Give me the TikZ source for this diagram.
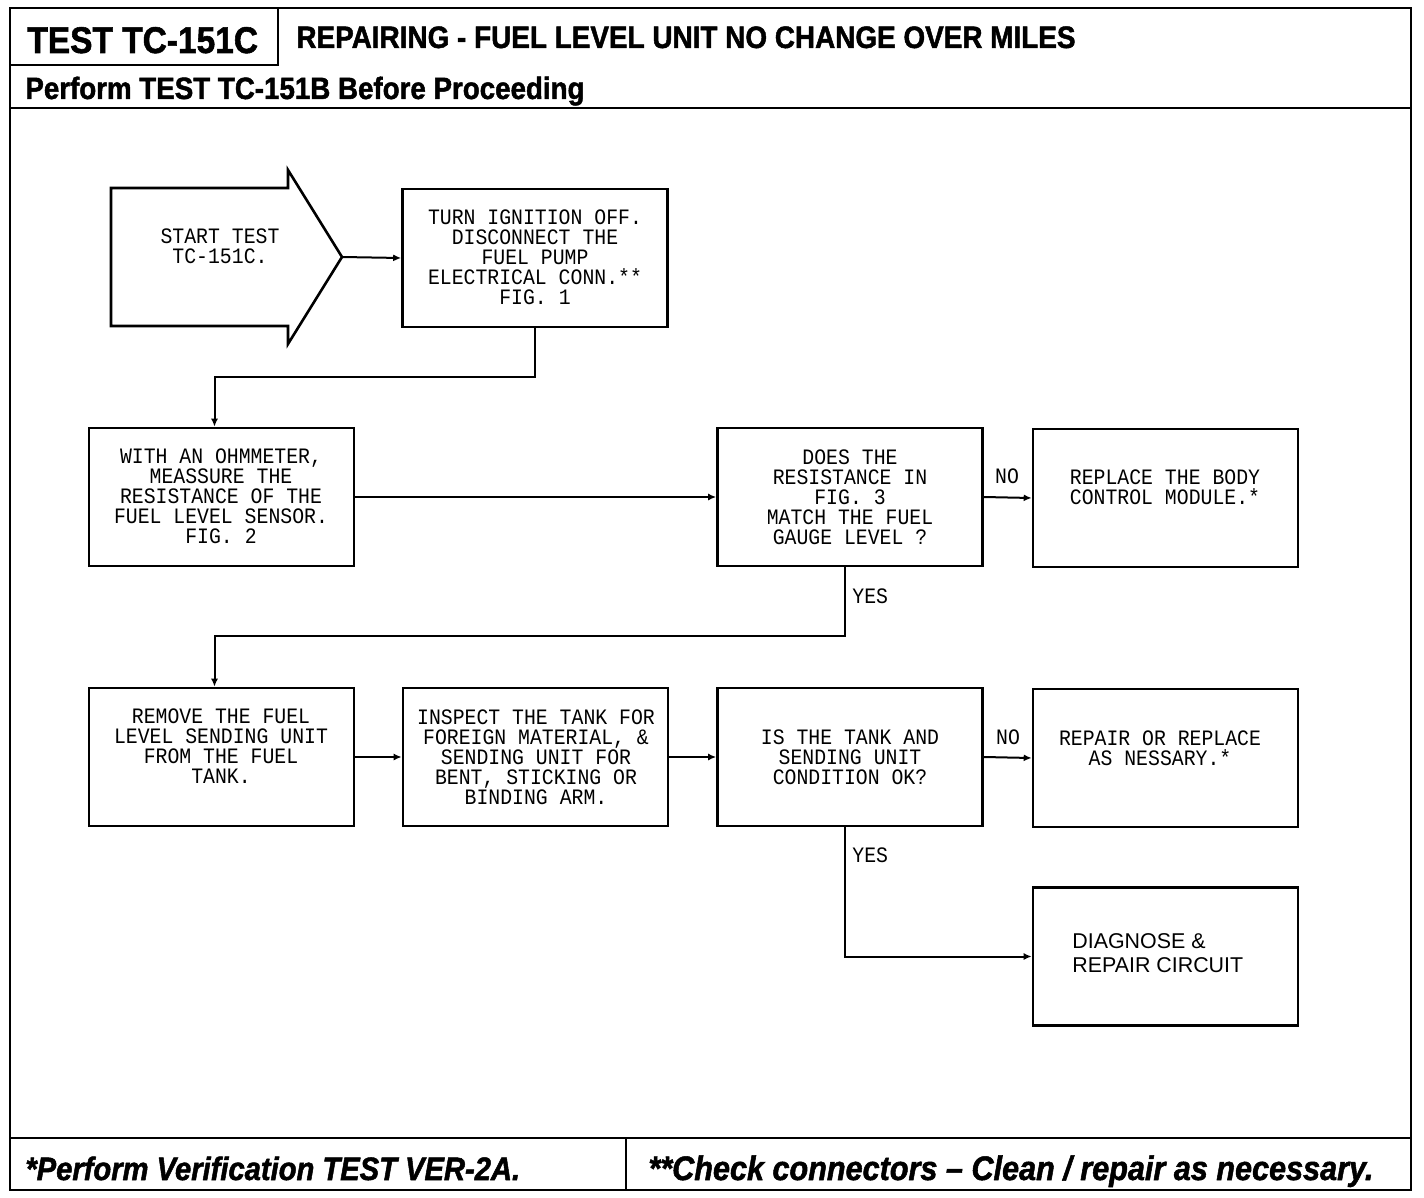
\documentclass[tikz,border=0pt]{standalone}
\usepackage{fontspec}
\setmainfont{Liberation Sans}
\newfontfamily\plotfont[FakeStretch=0.9]{Liberation Mono}
\newfontfamily\headfont[FakeStretch=0.9,FakeBold=1.5]{Liberation Sans}
\usetikzlibrary{arrows.meta,calc}
\begin{document}
\begin{tikzpicture}[x=0.5pt,y=-0.5pt,
  frame/.style={line width=1.4pt},
  box/.style={draw, line width=1.3pt, minimum width=132.5pt, minimum height=69pt, inner sep=0pt},
  txt/.style={font=\plotfont\fontsize{11}{10}\selectfont, align=center, inner sep=0pt},
  lbl/.style={font=\plotfont\fontsize{11}{10}\selectfont, inner sep=0pt},
  conn/.style={line width=1pt, -{Latex[length=4pt,width=3.5pt]}},
  head/.style={inner sep=0pt, anchor=base west}]
\fill[white] (0,0) rectangle (1424,1198);
\useasboundingbox (0,0) rectangle (1424,1198);
% frame
\draw[frame] (10,8) rectangle (1411,1190);
\draw[frame] (10,8) rectangle (278,65);
\draw[frame] (10,108) -- (1411,108);
\draw[frame] (10,1138) -- (1411,1138);
\draw[frame] (626,1138) -- (626,1190);
\node[head, font=\headfont\bfseries\fontsize{18.6}{18}\selectfont] (hd1) at (27,53) {TEST TC-151C};
\node[head, font=\headfont\bfseries\fontsize{15.5}{15}\selectfont] (hd2) at (296,48) {REPAIRING - FUEL LEVEL UNIT NO CHANGE OVER MILES};
\node[head, font=\headfont\bfseries\fontsize{15.4}{15}\selectfont] (hd3) at (25,99) {Perform TEST TC-151B Before Proceeding};
\node[head, font=\headfont\bfseries\itshape\fontsize{16.2}{15}\selectfont] (ft1) at (25,1180) {*Perform Verification TEST VER-2A.};
\node[head, font=\headfont\bfseries\itshape\fontsize{17}{15}\selectfont] (ft2) at (648,1180) {**Check connectors – Clean / repair as necessary.};
% start arrow
\draw[line width=1.3pt] (111,188) -- (288,188) -- (288,170) -- (342,257) -- (288,344) -- (288,326) -- (111,326) -- cycle;
\coordinate (starttip) at (342,257);
\node[txt] (st) at (220,246) {START TEST\\TC-151C.};
% boxes
\node[box] (b1) at (535,258) {};
\node[box] (b2) at (221.5,497) {};
\node[box] (b3) at (850,497) {};
\node[box] (b4) at (1165.5,498) {};
\node[box] (b5) at (221.5,757) {};
\node[box] (b6) at (535.5,757) {};
\node[box] (b7) at (850,757) {};
\node[box] (b8) at (1165.5,758) {};
\node[box] (b9) at (1165.5,956.5) {};
% texts
\node[txt] (b1t) at (535,257) {TURN IGNITION OFF.\\DISCONNECT THE\\FUEL PUMP\\ELECTRICAL CONN.**\\FIG. 1};
\node[txt] (b2t) at (221,496) {WITH AN OHMMETER,\\MEASSURE THE\\RESISTANCE OF THE\\FUEL LEVEL SENSOR.\\FIG. 2};
\node[txt] (b3t) at (850,497) {DOES THE\\RESISTANCE IN\\FIG. 3\\MATCH THE FUEL\\GAUGE LEVEL ?};
\node[txt] (b4t) at (1165,487) {REPLACE THE BODY\\CONTROL MODULE.*};
\node[txt] (b5t) at (221,746) {REMOVE THE FUEL\\LEVEL SENDING UNIT\\FROM THE FUEL\\TANK.};
\node[txt] (b6t) at (536,757) {INSPECT THE TANK FOR\\FOREIGN MATERIAL, \&\\SENDING UNIT FOR\\BENT, STICKING OR\\BINDING ARM.};
\node[txt] (b7t) at (850,757) {IS THE TANK AND\\SENDING UNIT\\CONDITION OK?};
\node[txt] (b8t) at (1160,748) {REPAIR OR REPLACE\\AS NESSARY.*};
\node[inner sep=0pt, align=left, anchor=west, font=\fontsize{10.7}{12}\selectfont] (b9t) at (1072,953) {DIAGNOSE \&\\REPAIR CIRCUIT};
% connectors
\draw[conn] (starttip) -- (b1.west);
\draw[conn] (b1.south) -- ++(0,49) -| ([xshift=-3.5pt]b2.north);
\draw[conn] (b2.east) -- (b3.west);
\draw[conn] (b3.east) -- (b4.west);
\draw[conn] ([xshift=-2.5pt]b3.south) -- ++(0,69) -| ([xshift=-3.5pt]b5.north);
\draw[conn] (b5.east) -- (b6.west);
\draw[conn] (b6.east) -- (b7.west);
\draw[conn] (b7.east) -- (b8.west);
\draw[conn] ([xshift=-2.5pt]b7.south) |- (b9.west);
% labels
\node[lbl] (no1) at (1007,476) {NO};
\node[lbl] (no2) at (1008,737) {NO};
\node[lbl, anchor=west] (yes1) at (852,596) {YES};
\node[lbl, anchor=west] (yes2) at (852,855) {YES};
\end{tikzpicture}
\end{document}
